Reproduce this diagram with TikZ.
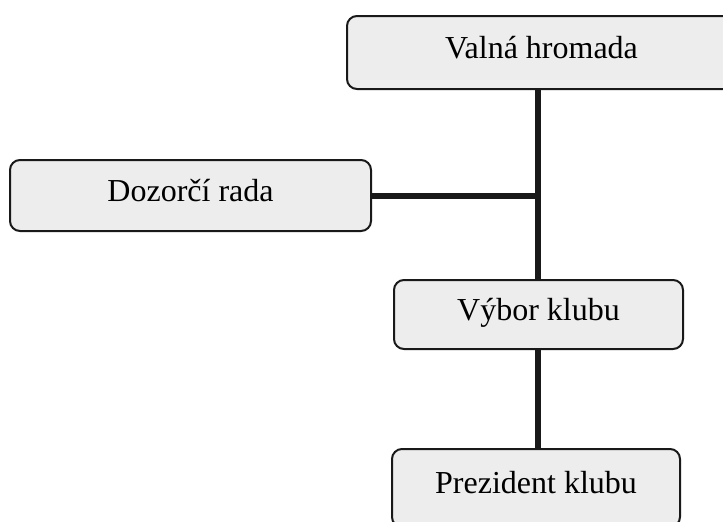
\documentclass[tikz,border=0pt]{standalone}
\usepackage{fontspec}
\setmainfont{Liberation Serif}
\begin{document}
\begin{tikzpicture}[x=1pt,y=-1pt,
  orgbox/.style={draw=black!90, line width=2pt, rounded corners=10pt,
    fill=black!7, inner sep=0pt, anchor=north west,
    font=\fontsize{32}{36}\selectfont, text height=21pt, text depth=10pt},
  link/.style={line width=6pt, black!90}]
  \useasboundingbox (0,0) rectangle (723,522);
  % organisation units
  \node[orgbox, minimum width=389pt, minimum height=73pt] (vh) at (346,15) {Valná hromada};
  \node[orgbox, minimum width=361pt, minimum height=71pt] (dr) at (9,159) {Dozorčí rada};
  \node[orgbox, minimum width=289pt, minimum height=69pt] (vk) at (393,279) {Výbor klubu};
  \node[orgbox, minimum width=288pt, minimum height=78pt] (pk) at (391,448) {Prezident klubu};
  % junction of the supervisory board line
  \coordinate (j) at (538,196);
  % connectors
  \draw[link] (vh.south -| j) -- (vk.north -| j);
  \draw[link] (dr.east |- j) -- (j);
  \draw[link] (vk.south -| j) -- (pk.north -| j);
\end{tikzpicture}
\end{document}
